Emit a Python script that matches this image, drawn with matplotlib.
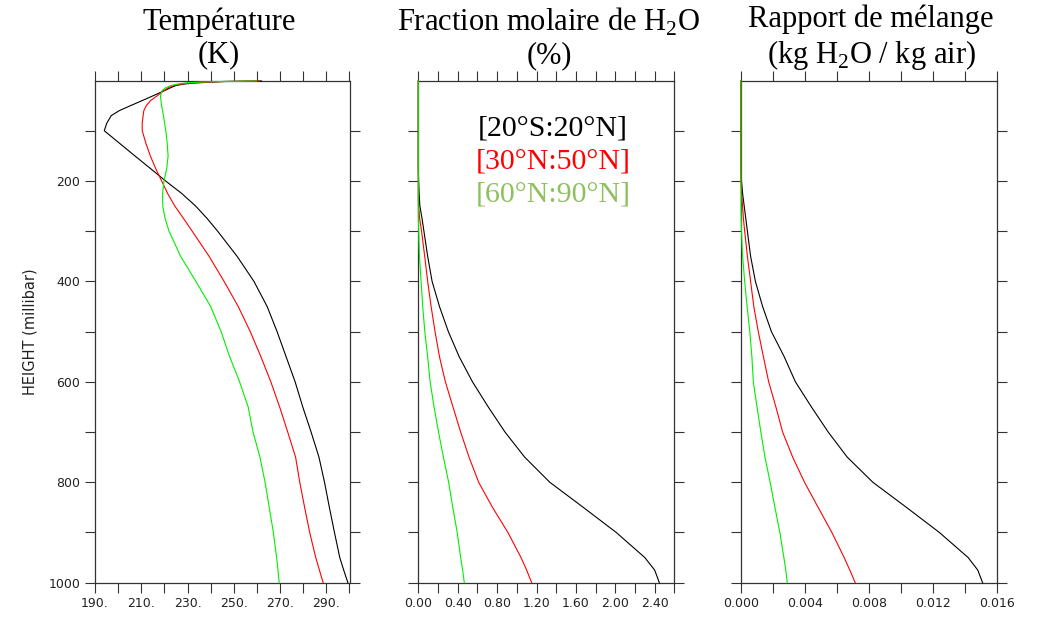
import matplotlib
matplotlib.use("Agg")
import matplotlib.pyplot as plt
from matplotlib.ticker import MultipleLocator, FuncFormatter, FixedLocator

plt.rcParams['mathtext.fontset'] = 'custom'
plt.rcParams['mathtext.rm'] = 'Liberation Serif'

# ---------------- data ----------------
pressure = [1, 2, 3, 5, 7, 10, 15, 20, 30, 40, 50, 60, 70, 85, 100, 125, 150, 175,
            200, 225, 250, 275, 300, 350, 400, 450, 500, 550, 600, 650, 700, 750,
            800, 850, 900, 950, 975, 1000]

# Temperature (K)
temp_tropics = [262.0, 245.5, 241.0, 233.0, 228.5, 225.0, 222.4, 220.1, 215.3, 210.4,
                205.4, 200.5, 197.0, 195.1, 194.0, 200.6, 207.2, 213.9,
                220.5, 227.5, 233.5, 238.5, 243.0, 251.4, 258.7, 264.4, 268.7, 272.6,
                276.5, 279.8, 283.4, 286.8, 289.2, 291.3, 293.5, 295.8, 297.5, 299.3]
temp_midlat = [261.0, 246.0, 239.0, 231.2, 227.5, 223.8, 221.5, 219.8, 217.0, 214.0,
               212.2, 211.1, 210.8, 210.4, 210.4, 212.0, 213.9, 216.2,
               218.8, 221.4, 224.5, 228.3, 232.0, 239.3, 245.8, 251.9, 257.1, 261.7,
               266.0, 269.8, 273.3, 276.7, 278.5, 280.6, 282.8, 285.4, 287.0, 288.6]
temp_polar = [260.0, 245.0, 236.0, 229.0, 225.8, 222.8, 220.4, 219.0, 218.3, 218.5,
              218.8, 219.2, 219.6, 220.1, 220.6, 221.2, 221.6, 221.0,
              219.8, 219.2, 219.3, 220.3, 222.0, 227.0, 233.6, 240.0, 244.5, 248.2,
              252.5, 256.2, 258.3, 261.3, 263.5, 265.3, 267.1, 268.5, 269.1, 269.6]

# Molar fraction of H2O (%)
frac_tropics = [0, 0, 0, 0, 0, 0, 0, 0, 0, 0, 0, 0, 0, 0, 0, 0, 0, 0,
                0.003, 0.008, 0.016, 0.038, 0.057, 0.095, 0.14, 0.215, 0.305, 0.415,
                0.55, 0.71, 0.88, 1.08, 1.335, 1.675, 2.01, 2.30, 2.40, 2.447]
frac_midlat = [0, 0, 0, 0, 0, 0, 0, 0, 0, 0, 0, 0, 0, 0, 0, 0, 0, 0,
               0.0, 0.0, 0.002, 0.014, 0.033, 0.065, 0.095, 0.13, 0.17, 0.215,
               0.275, 0.352, 0.43, 0.515, 0.613, 0.753, 0.91, 1.043, 1.10, 1.151]
frac_polar = [0, 0, 0, 0, 0, 0, 0, 0, 0, 0, 0, 0, 0, 0, 0, 0, 0, 0,
              0.0, 0.0, 0.0, 0.001, 0.004, 0.012, 0.028, 0.045, 0.066, 0.095,
              0.12, 0.16, 0.205, 0.255, 0.308, 0.35, 0.395, 0.43, 0.45, 0.467]

# Mixing ratio (kg H2O / kg air)
mix_tropics = [0, 0, 0, 0, 0, 0, 0, 0, 0, 0, 0, 0, 0, 0, 0, 0, 0, 0,
               0.00003, 0.0001, 0.0002, 0.0003, 0.0004, 0.0006, 0.0009, 0.00135, 0.0019, 0.0027,
               0.0034, 0.0044, 0.00545, 0.00664, 0.00824, 0.01034, 0.0124, 0.0142, 0.0148, 0.0151]
mix_midlat = [0, 0, 0, 0, 0, 0, 0, 0, 0, 0, 0, 0, 0, 0, 0, 0, 0, 0,
              0.0, 0.00003, 0.0001, 0.00015, 0.00023, 0.0004, 0.0006, 0.0008, 0.00108, 0.0014,
              0.00173, 0.00218, 0.0026, 0.00323, 0.00397, 0.00482, 0.00568, 0.00645, 0.0068, 0.00714]
mix_polar = [0, 0, 0, 0, 0, 0, 0, 0, 0, 0, 0, 0, 0, 0, 0, 0, 0, 0,
             0.0, 0.0, 0.0, 0.00001, 0.00003, 0.0001, 0.00023, 0.00038, 0.00055, 0.00068,
             0.00077, 0.001, 0.00124, 0.0015, 0.00182, 0.00212, 0.00243, 0.00268, 0.0028, 0.00289]

region_labels = ['[20°S:20°N]', '[30°N:50°N]', '[60°N:90°N]']
line_colors = ['black', '#ff0000', '#00ee00']
label_colors = ['black', '#ff0000', '#8fc060']

titles = ['Température\n(K)',
          'Fraction molaire de H$_\\mathregular{2}$O\n(%)',
          'Rapport de mélange\n(kg H$_\\mathregular{2}$O / kg air)']

temp_major = [190, 210, 230, 250, 270, 290]
frac_major = [0, 0.4, 0.8, 1.2, 1.6, 2.0, 2.4]
mix_major = [0, 0.004, 0.008, 0.012, 0.016]
p_major = [200, 400, 600, 800, 1000]
p_minor = [100, 300, 500, 700, 900]

# ---------------- figure ----------------
W, H = 1041, 619
fig = plt.figure(figsize=(W / 100, H / 100), dpi=100)

def add_ax(l, r, t, b):
    return fig.add_axes([l / W, 1 - b / H, (r - l) / W, (b - t) / H])

top, bot = 80.5, 582.7
ax1 = add_ax(95, 349.5, top, bot)
ax2 = add_ax(418.3, 674.4, top, bot)
ax3 = add_ax(741, 997, top, bot)

panels = [
    (ax1, [temp_tropics, temp_midlat, temp_polar], (190, 300), temp_major, 10, lambda v, p: f"{v:.0f}."),
    (ax2, [frac_tropics, frac_midlat, frac_polar], (0, 2.6), frac_major, 0.2, lambda v, p: f"{v:.2f}"),
    (ax3, [mix_tropics, mix_midlat, mix_polar], (0, 0.016), mix_major, 0.002, lambda v, p: f"{v:.3f}"),
]

tick_color = '#222222'
for ax, series, xl, maj, mnr, fmt in panels:
    for vals, c in zip(series, line_colors):
        ax.plot(vals, pressure, color=c, lw=0.8, clip_on=False, zorder=3)
    ax.set_xlim(*xl)
    ax.set_ylim(1000, 0)
    ax.xaxis.set_major_locator(FixedLocator(maj))
    ax.xaxis.set_minor_locator(MultipleLocator(mnr))
    ax.xaxis.set_major_formatter(FuncFormatter(fmt))
    ax.yaxis.set_major_locator(FixedLocator(p_major))
    ax.yaxis.set_minor_locator(FixedLocator(p_minor))
    ax.tick_params(which='both', direction='out', length=7.5, width=0.8,
                   top=True, right=True, colors='#333333', labelcolor=tick_color,
                   labelsize=9, pad=3)
    for s in ax.spines.values():
        s.set_linewidth(0.9)
        s.set_color('#333333')
    if ax is not ax1:
        ax.tick_params(axis='y', labelleft=False)

ax1.set_ylabel('HEIGHT (millibar)', fontsize=10.5, color=tick_color)
ax1.yaxis.set_label_coords(-0.225, 0.5)

# titles
title_x = [219, 549, 871]
for tx, tt in zip(title_x, titles):
    fig.text(tx / W, 1 - 38.5 / H, tt, ha='center', va='center', multialignment='center',
             family='Liberation Serif', fontsize=22, linespacing=1.15)

# legend texts in panel 2
leg_y = [128, 161.5, 195]
for yy, lab, c in zip(leg_y, region_labels, label_colors):
    fig.text(553 / W, 1 - yy / H, lab, ha='center', va='center', color=c,
             family='Liberation Serif', fontsize=21.5)

fig.savefig('out.png', dpi=100)
